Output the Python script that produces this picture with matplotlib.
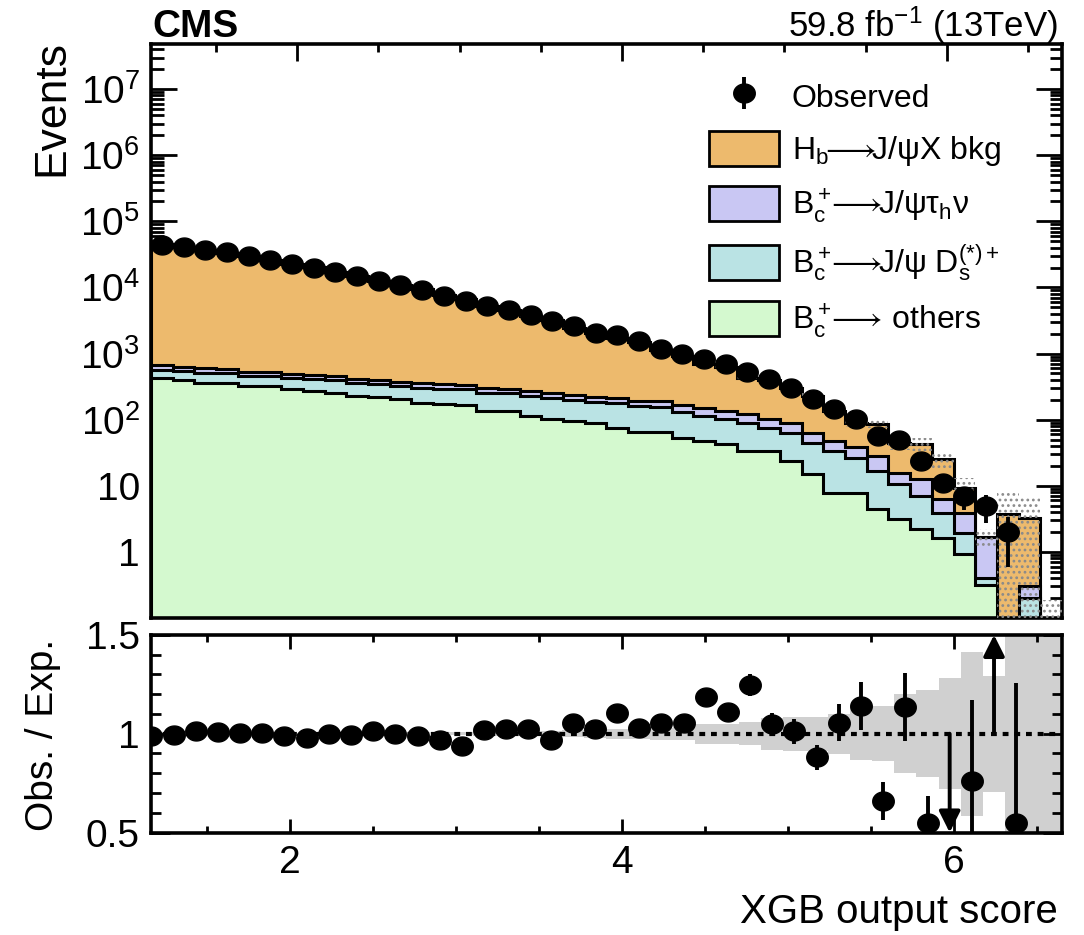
import numpy as np
import matplotlib
matplotlib.use("Agg")
import matplotlib.pyplot as plt
from matplotlib.patches import Patch
from matplotlib.ticker import FixedLocator, MultipleLocator, FuncFormatter, NullFormatter

plt.rcParams["font.family"] = ["Liberation Sans", "DejaVu Sans"]
plt.rcParams["mathtext.fontset"] = "custom"
plt.rcParams["mathtext.rm"] = "Liberation Sans"
plt.rcParams["mathtext.it"] = "Liberation Sans:italic"
plt.rcParams["mathtext.bf"] = "Liberation Sans:bold"
plt.rcParams["mathtext.fallback"] = "stixsans"
plt.rcParams["hatch.linewidth"] = 1.2

# binning of the XGB score
x_lo, x_hi, n_bins = 1.1, 6.71, 42

observed = [44460, 41050, 37380, 34030, 30340, 26380, 22740, 19780, 17210, 14760,
            12700, 10940, 9297, 7549, 6341, 5330, 4637, 3765, 3085, 2594,
            2061, 1878, 1539, 1182, 969, 834, 684, 524, 416, 304,
            203, 143, 101, 57, 50, 24, 11, 7, 5, 2, 0, 0]

hb_bkg = [44190, 40580, 36300, 33110, 29660, 25730, 22460, 19710, 16760, 14410,
          12140, 10560, 9030, 7450, 6430, 4940, 4240, 3400, 2940, 2230,
          1800, 1490, 1300, 930, 750, 550, 480, 300, 295, 211,
          166, 87, 50, 57, 28, 30.5, 19.3, 5.5, 0, 3.7, 3.0, 0]

bc_tau = [95, 92, 88, 80, 72, 66, 62, 58, 56, 54,
          53, 54, 52, 50, 48, 46, 44, 42, 38, 36,
          35, 32, 34, 34, 40, 36, 35, 32, 29, 25,
          19, 14, 13, 12, 5.3, 5.5, 2.5, 2.0, 1.3, 0, 0.11, 0]

bc_ds = [140, 144, 150, 140, 140, 135, 135, 140, 138, 133,
         120, 119, 122, 126, 128, 120, 115, 114, 112, 103,
         99, 102, 96, 92, 75, 68, 60, 56, 40, 40,
         30, 25.7, 18, 12.3, 7.4, 4.8, 2.25, 1.0, 0.08, 0, 0.2, 0]

bc_others = [431, 396, 362, 362, 322, 322, 294, 270, 256, 227,
             223, 203, 181, 170, 164, 135, 135, 113, 101, 95,
             88, 76, 64, 64, 53.5, 47.6, 42.4, 33.6, 33.6, 23.7,
             14.9, 7.9, 7.9, 4.4, 3.1, 2.2, 1.65, 0.92, 0.32, 0, 0, 0]

mc_unc = [224, 206, 185, 168, 151, 131, 115, 101, 86, 74,
          100, 88, 75, 62, 54, 63, 54, 44, 38, 42,
          40, 42, 37, 34, 31, 35, 31, 24, 32, 25.5,
          19.6, 13.5, 12, 12, 8.8, 9.5, 7.2, 3.9, 0.5, 4.2, 3.5, 0.19]

ratio = [0.991, 0.996, 1.013, 1.010, 1.005, 1.005, 0.991, 0.980, 1.000, 0.996,
         1.013, 1.000, 0.991, 0.968, 0.937, 1.018, 1.022, 1.025, 0.968, 1.054,
         1.022, 1.106, 1.030, 1.056, 1.056, 1.186, 1.111, 1.246, 1.051, 1.013,
         0.881, 1.056, 1.140, 0.658, 1.135, 0.549, 0.44, 0.763, 3.0, 0.549,
         np.nan, np.nan]

ratio_err = [0.006, 0.006, 0.006, 0.006, 0.006, 0.007, 0.007, 0.008, 0.008, 0.009,
             0.009, 0.010, 0.011, 0.012, 0.013, 0.014, 0.015, 0.017, 0.018, 0.020,
             0.022, 0.024, 0.026, 0.030, 0.032, 0.035, 0.038, 0.054, 0.055, 0.063,
             0.063, 0.093, 0.122, 0.097, 0.172, 0.135, 0.13, 0.41, 1.4, 0.71, 0, 0]

labels = ["Observed",
          r"$\mathregular{H_b\!\!\longrightarrow\!\!J/\psi X}$ bkg",
          r"$\mathregular{B_c^+\!\!\longrightarrow\!\!J/\psi\tau_h\nu}$",
          r"$\mathregular{B_c^+\!\!\longrightarrow\!\!J/\psi\ D_s^{(*)+}}$",
          r"$\mathregular{B_c^+\!\!\longrightarrow\!}$ others"]
colors = ["#EDBA6D", "#C9C7F3", "#BAE3E4", "#D4F9CF"]

edges = np.linspace(x_lo, x_hi, n_bins + 1)
centers = 0.5 * (edges[:-1] + edges[1:])
obs = np.array(observed, dtype=float)
comps = [np.array(c, dtype=float) for c in (hb_bkg, bc_tau, bc_ds, bc_others)]
total = sum(comps)
unc = np.array(mc_unc)
floor = 1e-3

theta = np.linspace(0, 2 * np.pi, 60)
ellipse = np.column_stack([np.cos(theta), 0.88 * np.sin(theta)])

fig = plt.figure(figsize=(10.84, 9.35), dpi=100)
ax = fig.add_axes([0.1393, 0.339, 0.8404, 0.6139])
axr = fig.add_axes([0.1393, 0.1096, 0.8404, 0.2113])

# stacked histogram, drawn as cumulative sums from the top layer down
cum = total.copy()
for comp, col in zip(comps, colors):
    ax.stairs(np.maximum(cum, floor), edges, baseline=floor, fill=True,
              facecolor=col, edgecolor="black", linewidth=2.2, zorder=2)
    cum = cum - comp

# MC statistical uncertainty
ax.stairs(total + unc, edges, baseline=np.maximum(total - unc, floor), fill=True,
          facecolor="none", edgecolor="#8a8a8a", hatch="...", linewidth=0, zorder=3)

m = obs > 0
ax.errorbar(centers[m], obs[m], yerr=np.sqrt(obs[m]), fmt="none",
            ecolor="black", elinewidth=2.8, capsize=0, zorder=4)
ax.plot(centers[m], obs[m], ls="none", marker=ellipse, ms=15.5, color="black", zorder=5)
data_handle = ax.errorbar([], [], yerr=[], marker=ellipse, ms=15.5, ls="none",
                          color="black", elinewidth=2.8, capsize=0)

ax.set_yscale("log")
ax.set_xlim(x_lo, x_hi)
ax.set_ylim(0.1, 4.8e7)


def log_label(v, pos):
    if v == 1:
        return "1"
    if v == 10:
        return "10"
    return r"$\mathregular{10^{%d}}$" % round(np.log10(v))


ax.yaxis.set_major_locator(FixedLocator([10.0 ** k for k in range(0, 8)]))
ax.yaxis.set_major_formatter(FuncFormatter(log_label))
minor = [s * 10.0 ** k for k in range(-1, 8) for s in range(2, 10)]
ax.yaxis.set_minor_locator(FixedLocator(minor))
ax.yaxis.set_minor_formatter(NullFormatter())
ax.xaxis.set_major_locator(MultipleLocator(2))
ax.xaxis.set_minor_locator(MultipleLocator(0.5))
ax.tick_params(axis="x", labelbottom=False)

handles = [data_handle] + [Patch(facecolor=c, edgecolor="black", linewidth=2) for c in colors]
ax.legend(handles, labels, loc="upper left", bbox_to_anchor=(0.612, 0.94),
          frameon=False, fontsize=23, handlelength=2.2, handleheight=1.3,
          handletextpad=0.4, labelspacing=0.55, borderpad=0, borderaxespad=0)

# ratio panel
rel = np.where(total > 0, unc / np.where(total > 0, total, 1), 10.0)
axr.stairs(1 + rel, edges, baseline=1 - rel, fill=True, facecolor="#d0d0d0",
           linewidth=0, zorder=1)
axr.axhline(1, color="black", lw=3, ls=(0, (1.4, 1.4)), zorder=2)

r = np.array(ratio)
re = np.array(ratio_err)
r_lo, r_hi = 0.5, 1.5
inside = np.isfinite(r) & (r >= r_lo) & (r <= r_hi)
axr.errorbar(centers[inside], r[inside], yerr=re[inside], fmt="none",
             ecolor="black", elinewidth=2.8, capsize=0, zorder=3)
axr.plot(centers[inside], r[inside], ls="none", marker=ellipse, ms=15.5,
         color="black", zorder=4)
for xc, rv in zip(centers, r):
    if np.isfinite(rv) and (rv < r_lo or rv > r_hi):
        tip = r_lo if rv < r_lo else r_hi
        axr.annotate("", xy=(xc, tip), xytext=(xc, 1.0),
                     arrowprops=dict(arrowstyle="-|>", lw=2.8, color="black",
                                     mutation_scale=32, shrinkA=0, shrinkB=0),
                     zorder=4)

axr.set_xlim(1.164, 6.652)
axr.set_ylim(r_lo, r_hi)
axr.xaxis.set_major_locator(MultipleLocator(2))
axr.xaxis.set_minor_locator(MultipleLocator(0.5))
axr.yaxis.set_major_locator(FixedLocator([0.5, 1.0, 1.5]))
axr.yaxis.set_minor_locator(MultipleLocator(0.1))
axr.yaxis.set_major_formatter(FuncFormatter(lambda v, p: "%g" % v))

for a in (ax, axr):
    for s in a.spines.values():
        s.set_linewidth(2.6)
    a.tick_params(which="both", direction="in", top=True, right=True, width=2,
                  labelsize=28)
ax.tick_params(axis="y", which="major", length=19, pad=8)
ax.tick_params(axis="y", which="minor", length=9)
ax.tick_params(axis="x", which="major", length=12)
ax.tick_params(axis="x", which="minor", length=6)
axr.tick_params(axis="x", which="major", length=10, pad=9)
axr.tick_params(axis="x", which="minor", length=5)
axr.tick_params(axis="y", which="major", length=14, pad=8)
axr.tick_params(axis="y", which="minor", length=7)

fig.text(52 / 1084, 1 - 40 / 935, "Events", rotation=90, ha="center", va="top",
         fontsize=32)
fig.text(43 / 1084, 1 - 735 / 935, "Obs. / Exp.", rotation=90, ha="center",
         va="center", fontsize=28)
fig.text(1058 / 1084, 1 - 912 / 935, "XGB output score", ha="right", va="center",
         fontsize=29)
fig.text(152 / 1084, 1 - 37 / 935, "CMS", ha="left", va="baseline",
         fontsize=28, fontweight="bold")
fig.text(1058 / 1084, 1 - 37 / 935, r"59.8 fb$^{\mathregular{-1}}$ (13TeV)",
         ha="right", va="baseline", fontsize=25)

fig.savefig("out.png", dpi=100)
